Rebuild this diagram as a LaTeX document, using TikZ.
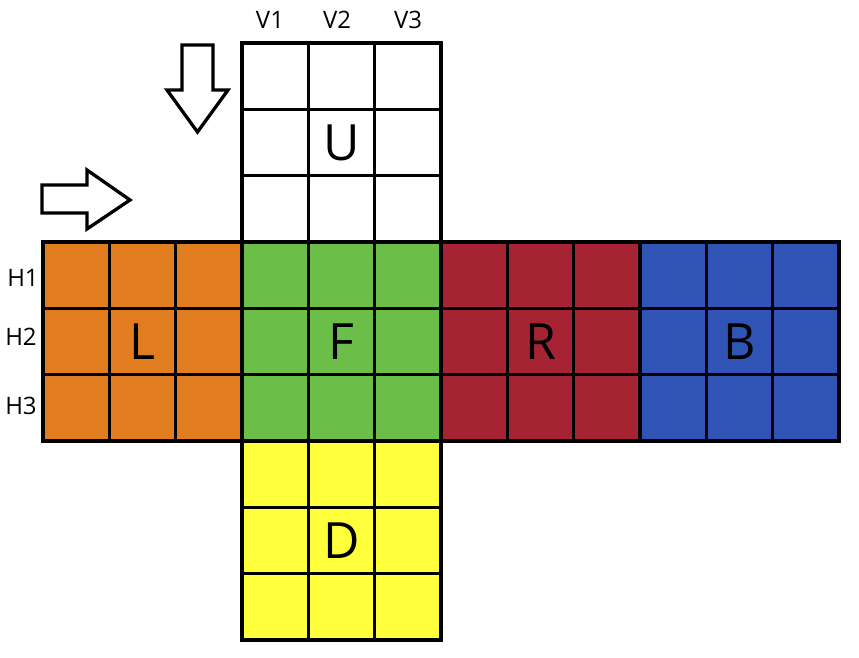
\documentclass[tikz,border=0pt]{standalone}
\usepackage{fontspec}
\setmainfont{Open Sans}
\definecolor{cOr}{HTML}{E17D1F}
\definecolor{cGr}{HTML}{6BBE47}
\definecolor{cRd}{HTML}{A62334}
\definecolor{cBl}{HTML}{2F54B5}
\definecolor{cYe}{HTML}{FFFF3B}
\begin{document}
\begin{tikzpicture}[x=1pt,y=-1pt,
  grid/.style={line width=3.3pt,draw=black,line cap=rect},
  facelbl/.style={font=\fontsize{50}{50}\selectfont,inner sep=0pt},
  axlbl/.style={font=\fontsize{24}{24}\selectfont,inner sep=0pt},
  bigarrow/.style={line width=3.3pt,draw=black,fill=white,line join=miter}]
\useasboundingbox (0,0) rectangle (859,658);
% faces
\fill[white] (242,43) rectangle (441,242);
\fill[cOr] (43,242) rectangle (242,441);
\fill[cGr] (242,242) rectangle (441,441);
\fill[cRd] (441,242) rectangle (640,441);
\fill[cBl] (640,242) rectangle (839,441);
\fill[cYe] (242,441) rectangle (441,640);
% grid lines
\foreach \x in {242,308.33,374.67,441} \draw[grid] (\x,43) -- (\x,640);
\foreach \y in {43,109.33,175.67} \draw[grid] (242,\y) -- (441,\y);
\foreach \y in {507.33,573.67,640} \draw[grid] (242,\y) -- (441,\y);
\foreach \y in {242,308.33,374.67,441} \draw[grid] (43,\y) -- (839,\y);
\foreach \x in {43,109.33,175.67,507.33,573.67,640,706.33,772.67,839} \draw[grid] (\x,242) -- (\x,441);
% face letters
\node[facelbl] (U) at (341.5,143) {U};
\node[facelbl] (L) at (142.5,342) {L};
\node[facelbl] (F) at (341.5,342) {F};
\node[facelbl] (R) at (540.5,342) {R};
\node[facelbl] (B) at (739.5,342) {B};
\node[facelbl] (D) at (341.5,541) {D};
% axis labels
\node[axlbl] (V1) at (270,20) {V1};
\node[axlbl] (V2) at (337,20) {V2};
\node[axlbl] (V3) at (408,20) {V3};
\node[axlbl] (H1) at (23,278) {H1};
\node[axlbl] (H2) at (21,337) {H2};
\node[axlbl] (H3) at (21,406) {H3};
% arrows
\draw[bigarrow] (182,45) -- (213,45) -- (213,90) -- (228,90) -- (197.5,132) -- (167,90) -- (182,90) -- cycle;
\draw[bigarrow] (42,185) -- (87,185) -- (87,170) -- (130,200) -- (87,229) -- (87,213) -- (42,213) -- cycle;
\end{tikzpicture}
\end{document}
